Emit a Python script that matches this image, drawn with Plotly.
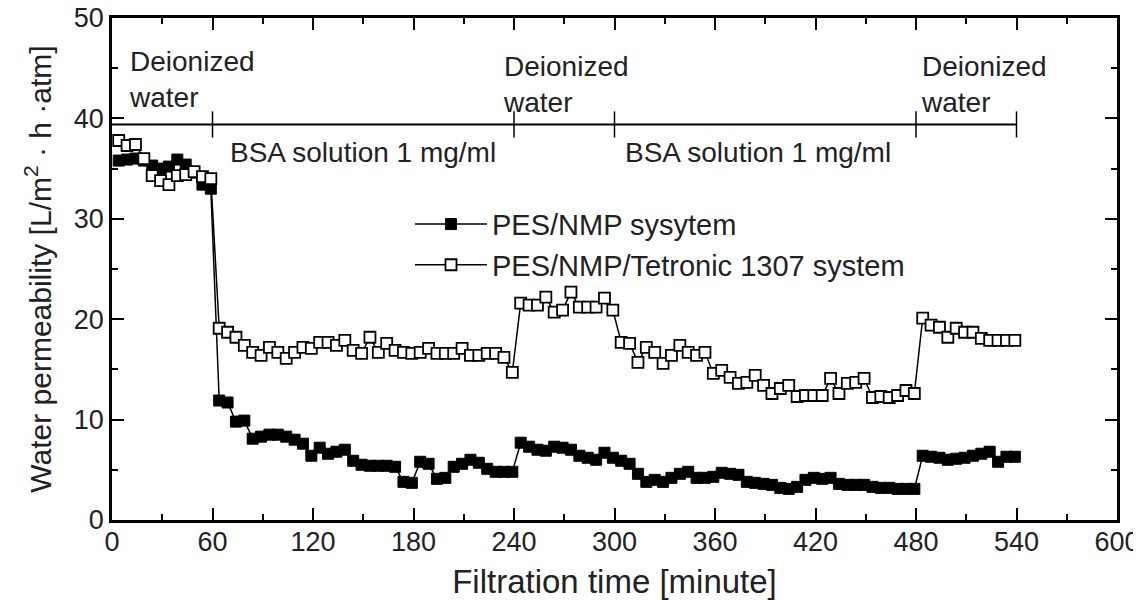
import plotly.graph_objects as go

# Filtration time [minute] – one reading every 5 minutes
time_min = list(range(4, 540, 5))

# PES/NMP system (filled squares)
pes_nmp = [
    # deionized water 0-60
    35.8, 35.9, 36.0, 35.8, 35.3, 35.0, 35.2, 35.9, 35.4, 34.6, 33.4, 33.0,
    # BSA 60-240
    11.9, 11.7, 9.8, 9.9, 8.1, 8.3, 8.5, 8.5, 8.3, 8.0, 7.6, 6.4,
    7.2, 6.6, 6.8, 7.0, 5.9, 5.5, 5.4, 5.4, 5.4, 5.3, 3.8, 3.7,
    5.8, 5.6, 4.1, 4.2, 5.3, 5.6, 6.0, 5.7, 5.1, 4.8, 4.8, 4.8,
    # deionized water 240-300
    7.7, 7.3, 7.0, 6.9, 7.3, 7.2, 7.0, 6.4, 6.2, 6.0, 6.7, 6.2,
    # BSA 300-480
    5.9, 5.6, 4.6, 3.8, 4.0, 3.8, 4.2, 4.6, 4.8, 4.2, 4.2, 4.3,
    4.7, 4.6, 4.5, 3.8, 3.7, 3.6, 3.5, 3.2, 3.1, 3.3, 4.0, 4.2,
    4.1, 4.2, 3.6, 3.5, 3.5, 3.5, 3.3, 3.2, 3.2, 3.1, 3.1, 3.1,
    # deionized water 480-540
    6.4, 6.3, 6.2, 6.0, 6.1, 6.2, 6.4, 6.6, 6.8, 5.8, 6.3, 6.3,
]

# PES/NMP/Tetronic 1307 system (open squares)
pes_tetronic = [
    37.8, 37.3, 37.4, 36.0, 34.3, 33.8, 33.4, 34.3, 34.4, 34.7, 34.2, 34.0,
    19.1, 18.7, 18.2, 17.4, 16.7, 16.4, 17.2, 16.7, 16.1, 16.7, 17.2, 17.1,
    17.7, 17.7, 17.4, 17.9, 16.9, 16.6, 18.2, 16.7, 17.6, 16.9, 16.7, 16.6,
    16.7, 17.1, 16.6, 16.6, 16.6, 17.1, 16.4, 16.4, 16.6, 16.6, 16.2, 14.7,
    21.6, 21.4, 21.4, 22.2, 20.7, 20.9, 22.7, 21.2, 21.2, 21.2, 22.1, 20.9,
    17.7, 17.6, 15.7, 17.2, 16.7, 15.6, 16.4, 17.4, 16.7, 16.4, 16.7, 14.6,
    14.9, 14.2, 13.6, 13.7, 14.4, 13.4, 12.6, 13.1, 13.4, 12.3, 12.4, 12.4,
    12.4, 14.1, 12.6, 13.6, 13.7, 14.1, 12.2, 12.3, 12.2, 12.4, 12.9, 12.6,
    20.1, 19.4, 19.2, 18.2, 19.1, 18.7, 18.7, 18.1, 17.9, 17.9, 17.9, 17.9,
]

# Phase bar
phase_bounds = [60, 240, 300, 480, 540]
phase_level = 39.4
phase_labels = ["Deionized<br>water", "BSA solution 1 mg/ml", "Deionized<br>water",
                "BSA solution 1 mg/ml", "Deionized<br>water"]
label_x = [9, 69, 232, 305, 482]
label_y = [43.9, 36.6, 43.4, 36.6, 43.4]

x_ticks = [0, 60, 120, 180, 240, 300, 360, 420, 480, 540, 600]
y_ticks = [0, 10, 20, 30, 40, 50]

FONT = "Liberation Sans, Arial, Helvetica, sans-serif"

fig = go.Figure()
fig.add_trace(go.Scatter(
    x=time_min, y=pes_nmp, mode="lines+markers", name="PES/NMP sysytem",
    line=dict(color="black", width=1.5),
    marker=dict(symbol="square", size=11, color="black", line=dict(color="black", width=1)),
))
fig.add_trace(go.Scatter(
    x=time_min, y=pes_tetronic, mode="lines+markers", name="PES/NMP/Tetronic 1307 system",
    line=dict(color="black", width=1.5),
    marker=dict(symbol="square", size=11, color="white", line=dict(color="black", width=1.8)),
))

# phase bar line and its ticks
fig.add_shape(type="line", xref="x", yref="y", x0=0, x1=phase_bounds[-1],
              y0=phase_level, y1=phase_level, line=dict(color="black", width=2))
for b in phase_bounds:
    fig.add_shape(type="line", xref="x", yref="y", x0=b, x1=b,
                  y0=phase_level - 1.3, y1=phase_level + 1.3, line=dict(color="black", width=1.5))

for txt, lx, ly in zip(phase_labels, label_x, label_y):
    fig.add_annotation(x=lx, y=ly, xref="x", yref="y", text=txt, showarrow=False,
                       xanchor="left", yanchor="middle", align="left",
                       font=dict(family=FONT, size=28, color="#222"))

axis_common = dict(showline=True, linecolor="black", linewidth=2.5, mirror="ticks",
                   ticks="inside", ticklen=12, tickwidth=2, tickcolor="black",
                   showgrid=False, zeroline=False, automargin=False,
                   ticklabeloverflow="allow",
                   tickfont=dict(family=FONT, size=27, color="#222"))

fig.update_xaxes(range=[0, 600], tickvals=x_ticks, ticklabelstandoff=-4,
                 minor=dict(dtick=30, tick0=0, ticks="inside", ticklen=6, tickwidth=2,
                            tickcolor="black", showgrid=False),
                 title=dict(text="Filtration time [minute]", font=dict(family=FONT, size=33, color="#222")),
                 **axis_common)
fig.update_yaxes(range=[0, 50], tickvals=y_ticks,
                 minor=dict(dtick=5, tick0=0, ticks="inside", ticklen=6, tickwidth=2,
                            tickcolor="black", showgrid=False),
                 title=dict(text="Water permeability [L/m<sup>2</sup> · h ·atm]",
                            font=dict(family=FONT, size=30, color="#222"), standoff=14),
                 **axis_common)

# the page body adds an 8 px offset, so margins are reduced accordingly
fig.update_layout(
    width=1133, height=592,
    margin=dict(l=104, r=24, t=10, b=80),
    plot_bgcolor="white", paper_bgcolor="white",
    showlegend=True,
    legend=dict(x=0.2965, y=0.64, xanchor="left", yanchor="top",
                bgcolor="rgba(0,0,0,0)", borderwidth=0,
                font=dict(family=FONT, size=29, color="#222"),
                itemwidth=72, tracegroupgap=0),
)

fig.write_html("out.html")
